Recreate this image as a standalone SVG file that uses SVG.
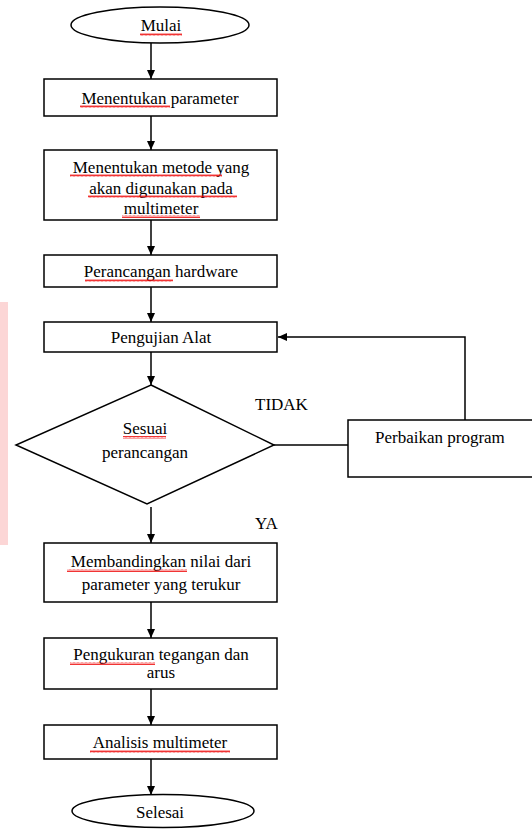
<svg xmlns="http://www.w3.org/2000/svg" width="532" height="830" viewBox="0 0 532 830" font-family="'Liberation Serif', 'DejaVu Serif', serif" font-size="17">
<style>
.s{fill:#fff;stroke:#000;stroke-width:1.5}
.c{fill:none;stroke:#000;stroke-width:1.5}
.m{text-anchor:middle}
.sq{fill:url(#squig)}
</style>
<defs>
<marker id="ah" markerWidth="10" markerHeight="10" refX="9" refY="5" orient="auto" markerUnits="userSpaceOnUse">
<path d="M0,1 L9,5 L0,9 Z" fill="#000"/>
</marker>
<pattern id="squig" width="4" height="3" patternUnits="userSpaceOnUse">
<path d="M0,2.5 L1,0.5 L2,2.5 L3,0.5 L4,2.5" fill="none" stroke="#e00" stroke-width="0.8"/>
</pattern>
</defs>
<rect width="532" height="830" fill="#fff"/>
<rect x="0" y="302" width="8" height="243" fill="#fcd6d6"/>

<g id="connectors">
<line class="c" x1="151" y1="43" x2="151" y2="79" marker-end="url(#ah)"/>
<line class="c" x1="151" y1="116" x2="151" y2="150" marker-end="url(#ah)"/>
<line class="c" x1="151" y1="220" x2="151" y2="255" marker-end="url(#ah)"/>
<line class="c" x1="151" y1="287" x2="151" y2="322" marker-end="url(#ah)"/>
<line class="c" x1="151" y1="352" x2="151" y2="385" marker-end="url(#ah)"/>
<line class="c" x1="274" y1="445" x2="348" y2="445"/>
<polyline class="c" points="465,420 465,337 278,337" marker-end="url(#ah)"/>
<line class="c" x1="151" y1="507" x2="151" y2="543" marker-end="url(#ah)"/>
<line class="c" x1="151" y1="602" x2="151" y2="638" marker-end="url(#ah)"/>
<line class="c" x1="151" y1="689" x2="151" y2="725" marker-end="url(#ah)"/>
<line class="c" x1="151" y1="759" x2="151" y2="795" marker-end="url(#ah)"/>
<text x="255" y="410">TIDAK</text>
<text x="255" y="529">YA</text>
</g>

<g id="mulai">
<ellipse class="s" cx="160" cy="25" rx="89" ry="18"/>
<text class="m" x="161" y="31">Mulai</text>
<rect class="sq" x="140" y="33" width="42" height="3"/>
</g>

<g id="parameter">
<rect class="s" x="44" y="79" width="233" height="37"/>
<text class="m" x="160" y="104">Menentukan parameter</text>
<rect class="sq" x="80" y="105" width="90" height="3"/>
</g>

<g id="metode">
<rect class="s" x="44" y="150" width="233" height="70"/>
<text class="m" x="161" y="173">Menentukan metode yang</text>
<text class="m" x="161" y="194">akan digunakan pada</text>
<text class="m" x="161" y="214">multimeter</text>
<rect class="sq" x="70" y="174" width="152" height="3"/>
<rect class="sq" x="88" y="195" width="149" height="3"/>
<rect class="sq" x="122" y="215" width="78" height="3"/>
</g>

<g id="hardware">
<rect class="s" x="44" y="255" width="233" height="32"/>
<text class="m" x="161" y="277">Perancangan hardware</text>
<rect class="sq" x="85" y="279" width="88" height="3"/>
</g>

<g id="pengujian">
<rect class="s" x="44" y="322" width="233" height="30"/>
<text class="m" x="161" y="343">Pengujian Alat</text>
</g>

<g id="sesuai">
<polygon class="s" points="151,385 274,445 147,504 16,445"/>
<text class="m" x="145" y="434">Sesuai</text>
<text class="m" x="145" y="458">perancangan</text>
<rect class="sq" x="123" y="436" width="43" height="3"/>
</g>

<g id="perbaikan">
<rect class="s" x="348" y="420" width="190" height="57"/>
<text x="375" y="443">Perbaikan program</text>
</g>

<g id="membandingkan">
<rect class="s" x="44" y="543" width="233" height="59"/>
<text class="m" x="161" y="567">Membandingkan nilai dari</text>
<text class="m" x="161" y="590">parameter yang terukur</text>
<rect class="sq" x="67" y="569" width="120" height="3"/>
</g>

<g id="pengukuran">
<rect class="s" x="44" y="638" width="233" height="51"/>
<text class="m" x="161" y="660">Pengukuran tegangan dan</text>
<text class="m" x="161" y="678">arus</text>
<rect class="sq" x="70" y="662" width="85" height="3"/>
</g>

<g id="analisis">
<rect class="s" x="44" y="725" width="233" height="34"/>
<text class="m" x="160" y="748">Analisis multimeter</text>
<rect class="sq" x="90" y="750" width="140" height="3"/>
</g>

<g id="selesai">
<ellipse class="s" cx="163" cy="811" rx="91" ry="16.5"/>
<text class="m" x="160" y="818">Selesai</text>
</g>
</svg>
